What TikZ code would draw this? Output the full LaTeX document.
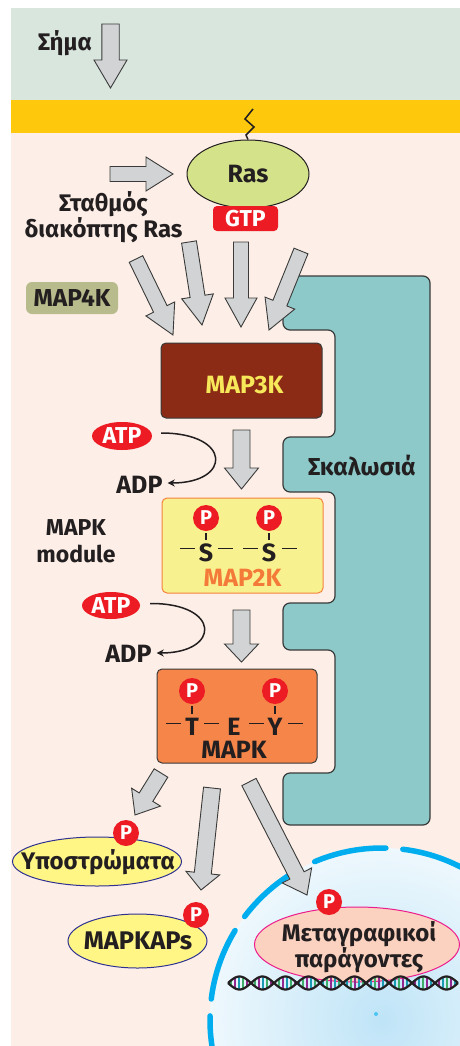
\documentclass[tikz,border=0pt]{standalone}
\usepackage{fontspec}
\setmainfont{Fira Sans}
\usetikzlibrary{arrows.meta,calc,shapes.geometric}

\definecolor{ink}{HTML}{231F20}
\definecolor{bandgreen}{HTML}{D9E6DE}
\definecolor{membrane}{HTML}{FEC80C}
\definecolor{cytosol}{HTML}{FDEFE7}
\definecolor{scaffoldteal}{HTML}{8CC9C8}
\definecolor{edgegray}{HTML}{3A3A3A}
\definecolor{arrowgray}{HTML}{D1D3D4}
\definecolor{rasgreen}{HTML}{D4E28A}
\definecolor{phosred}{HTML}{ED1C24}
\definecolor{olive}{HTML}{B8BB8C}
\definecolor{mapthree}{HTML}{8B2B15}
\definecolor{mapthreetext}{HTML}{F7E85A}
\definecolor{maptwo}{HTML}{F8F18F}
\definecolor{maptwoedge}{HTML}{F4823F}
\definecolor{maptwotext}{HTML}{F47A3A}
\definecolor{mapone}{HTML}{F58549}
\definecolor{subyellow}{HTML}{FFF685}
\definecolor{subnavy}{HTML}{2E3192}
\definecolor{tfpink}{HTML}{FBD1BF}
\definecolor{tfmagenta}{HTML}{EC1C8C}
\definecolor{nucblue}{HTML}{00AEEF}
\definecolor{nucin}{HTML}{BFE4F7}
\definecolor{nucout}{HTML}{EEF8FD}
\definecolor{dnagreen}{HTML}{3FAE6A}
\definecolor{dnapurple}{HTML}{92278F}
\definecolor{dnateal}{HTML}{1B9BB3}

% Wide grey block arrow between two named coordinates.
% #1 head length, #2 shaft half-width, #3 head half-width, #4 tail, #5 tip
\newcommand\grayarrow[5]{%
  \pgfpointdiff{\pgfpointanchor{#4}{center}}{\pgfpointanchor{#5}{center}}%
  \pgfgetlastxy{\gax}{\gay}%
  \pgfmathsetmacro\galen{veclen(\gax,\gay)}%
  \pgfmathsetmacro\gaang{atan2(\gay,\gax)}%
  \pgfmathsetmacro\gabase{\galen-#1}%
  \begin{scope}[shift={(#4)},rotate=\gaang]
    \draw[blockarrow] (0,-#2) -- (\gabase,-#2) -- (\gabase,-#3) -- (\galen,0)
      -- (\gabase,#3) -- (\gabase,#2) -- (0,#2) -- cycle;
  \end{scope}}

\newcommand\fsz[1]{\bfseries\fontsize{#1}{#1}\selectfont}

\begin{document}
\begin{tikzpicture}[x=1pt,y=-1pt,
  every node/.style={font=\fsz{24}, text=ink},
  tag/.style={inner sep=0pt, align=center},
  blockarrow/.style={fill=arrowgray, draw=edgegray, line width=0.9pt, line join=miter},
  kinase/.style={rectangle, rounded corners=5pt, draw=edgegray, line width=1pt, inner sep=0pt},
  phos/.style={circle, fill=phosred, text=white, minimum size=26pt, inner sep=0pt, font=\fsz{20}},
  redoval/.style={ellipse, fill=phosred, text=white, inner sep=0pt, font=\fsz{23}},
  bond/.style={draw=ink, line width=1.3pt},
  cyclearrow/.style={draw=ink, line width=1.5pt, -{Stealth[length=7pt,width=7pt]}},
  substrate/.style={ellipse, fill=subyellow, draw=subnavy, line width=1pt, inner sep=0pt},
  strand/.style={draw=ink, line width=2.2pt},
  rung/.style={line width=1.4pt}]

\useasboundingbox (0,0) rectangle (460,1046);
\fill[white] (0,0) rectangle (460,1046);

% compartments
\fill[cytosol] (11,8) rectangle (460,1046);
\fill[bandgreen] (11,8) rectangle (460,100);
\fill[membrane] (11,100) rectangle (460,133);

% nucleus
\begin{scope}
  \clip (11,8) rectangle (460,1046);
  \shade[inner color=nucin, outer color=nucout] (382,1020) circle (172);
  \fill[nucblue!70] (376,1014) circle (2);
  \draw[nucblue, line width=5.5pt, line cap=round, dash pattern=on 73pt off 17pt, dash phase=68.5pt]
    (382,1020) circle (172);
\end{scope}

% scaffold protein
\draw[fill=scaffoldteal, draw=edgegray, line width=1.2pt, rounded corners=7pt]
  (283,276) -- (430,276) -- (430,825) -- (283,825) -- (283,773) -- (335,773)
  -- (335,650) -- (283,650) -- (283,603) -- (335,603) -- (335,492) -- (283,492)
  -- (283,437) -- (335,437) -- (335,330) -- (283,330) -- cycle;
\node[tag, font=\fsz{24.5}] (scaf) at (362,465) {Σκαλωσιά};

% signal
\node[tag, font=\fsz{24}] (signal) at (65,43) {Σήμα};
\coordinate (sigA) at (110.5,24);
\coordinate (sigB) at (110.5,88);
\grayarrow{28}{8.7}{16.5}{sigA}{sigB}

% Ras on the membrane
\node[ellipse, fill=rasgreen, draw=ink, line width=1pt, minimum width=122pt, minimum height=68pt,
  inner sep=0pt, font=\fsz{25}] (ras) at (248,174) {Ras};
\coordinate (anchorA) at (253,109);
\draw[draw=ink, line width=1.5pt, line join=miter] (anchorA) -- ++(-8,10) -- ++(9,8) -- ++(-8,8) -- (ras.north);
\node[rectangle, rounded corners=4pt, fill=phosred, text=white, minimum width=65pt, minimum height=25pt,
  inner sep=0pt, font=\fsz{23}] (gtp) at (245.5,218.5) {GTP};

\coordinate (swA) at (110,174);
\coordinate (swB) at (173,174);
\grayarrow{27}{7.5}{17}{swA}{swB}
\node[tag, font=\bfseries\fontsize{24}{23}\selectfont] (switch) at (103.5,217) {Σταθμός\\διακόπτης Ras};

\node[rectangle, rounded corners=6pt, fill=olive, minimum width=92pt, minimum height=32pt,
  inner sep=0pt, font=\fsz{24.5}] (m4k) at (72,298) {MAP4K};

% converging activation arrows
\coordinate (c1A) at (136,259);  \coordinate (c1B) at (173,335);
\coordinate (c2A) at (189,242);  \coordinate (c2B) at (202,325);
\coordinate (c3A) at (241,242);  \coordinate (c3B) at (241,327);
\coordinate (c4A) at (301,251);  \coordinate (c4B) at (269,330);
\grayarrow{29}{7.5}{16}{c1A}{c1B}
\grayarrow{29}{7.5}{16}{c2A}{c2B}
\grayarrow{29}{7.5}{16}{c3A}{c3B}
\grayarrow{29}{7.5}{16}{c4A}{c4B}

% MAP3K
\node[kinase, fill=mapthree, minimum width=161pt, minimum height=75pt] (m3k) at (241.5,380.5) {};
\node[tag, text=mapthreetext, font=\fsz{25}] (m3ktxt) at (244.5,385) {MAP3K};

\coordinate (k1A) at (241.5,430);  \coordinate (k1B) at (241.5,489);
\grayarrow{21}{8.5}{17}{k1A}{k1B}

\node[redoval, minimum width=60pt, minimum height=28pt] (atp1) at (122,436) {ATP};
\node[tag, font=\fsz{25}] (adp1) at (139.5,485) {ADP};
\draw[cyclearrow] ($(atp1.east)+(9,-3)$) .. controls (232,433) and (232,483) .. ($(adp1.east)+(5,-2)$);

\node[tag, font=\bfseries\fontsize{23}{27}\selectfont] (module) at (76,541) {MAPK\\module};

% MAP2K
\node[kinase, fill=maptwo, draw=maptwoedge, minimum width=161pt, minimum height=95pt] (m2k) at (242.5,545.5) {};
\node[phos] (p2a) at (206,518) {P};
\node[phos] (p2b) at (269,518) {P};
\node[tag, font=\fsz{25}] (s1) at (206,552.5) {S};
\node[tag, font=\fsz{25}] (s2) at (269,552.5) {S};
\node[tag, text=maptwotext, font=\fsz{25}] (m2ktxt) at (242.5,578) {MAP2K};
\draw[bond] ($(p2a.south)+(0,2)$) -- ++(0,7);
\draw[bond] ($(p2b.south)+(0,2)$) -- ++(0,7);
\draw[bond] ($(s1)+(-26,-4)$) -- ++(15,0);
\draw[bond] ($(s1)+(12,-4)$) -- ++(15,0);
\draw[bond] ($(s2)+(-26,-4)$) -- ++(15,0);
\draw[bond] ($(s2)+(13,-4)$) -- ++(15,0);

\node[redoval, minimum width=58pt, minimum height=27pt] (atp2) at (111,605.5) {ATP};
\node[tag, font=\fsz{25}] (adp2) at (128.5,654) {ADP};
\draw[cyclearrow] ($(atp2.east)+(10,-2)$) .. controls (221,603) and (221,653) .. ($(adp2.east)+(5,-1)$);

\coordinate (k2A) at (241.5,610);  \coordinate (k2B) at (241.5,662);
\grayarrow{18}{8.5}{17}{k2A}{k2B}

% MAPK
\node[kinase, fill=mapone, minimum width=160pt, minimum height=94pt] (mapk) at (237,716) {};
\node[phos] (p1a) at (192,691) {P};
\node[phos] (p1b) at (275,691) {P};
\node[tag, font=\fsz{25}] (rT) at (192,726.5) {T};
\node[tag, font=\fsz{25}] (rE) at (234,726.5) {E};
\node[tag, font=\fsz{25}] (rY) at (275,726.5) {Y};
\node[tag, font=\fsz{25}] (mapktxt) at (234,750) {MAPK};
\draw[bond] ($(p1a.south)+(0,2)$) -- ++(0,8);
\draw[bond] ($(p1b.south)+(0,2)$) -- ++(0,8);
\draw[bond] ($(rT)+(-26,-3)$) -- ++(15,0);
\draw[bond] ($(rT)+(12,-3)$) -- ++(15,0);
\draw[bond] ($(rY)+(-26,-3)$) -- ++(15,0);
\draw[bond] ($(rY)+(13,-3)$) -- ++(15,0);

% downstream targets
\coordinate (d1A) at (161,773);  \coordinate (d1B) at (135,815);
\coordinate (d2A) at (212,788);  \coordinate (d2B) at (201,890);
\coordinate (d3A) at (249,782);  \coordinate (d3B) at (307,895);
\grayarrow{21}{8}{17}{d1A}{d1B}
\grayarrow{17}{8.5}{17}{d2A}{d2B}
\grayarrow{22}{8}{16.5}{d3A}{d3B}

\node[substrate, minimum width=169pt, minimum height=49pt] (sub) at (97,861.5) {};
\node[tag] (subtxt) at (98,862) {Υποστρώματα};
\node[phos] (psub) at (126,833) {P};

\node[substrate, minimum width=139pt, minimum height=54pt] (mkap) at (137.5,941) {};
\node[tag, font=\fsz{25.5}] (mkaptxt) at (138,941) {MAPKAPs};
\node[phos] (pmkap) at (196,915) {P};

\node[ellipse, fill=tfpink, draw=tfmagenta, line width=1pt, minimum width=205pt, minimum height=75pt,
  inner sep=0pt] (tf) at (357,944.5) {};
\node[tag, font=\bfseries\fontsize{24}{24}\selectfont] (tftxt) at (359,947) {Μεταγραφικοί\\παράγοντες};
\node[phos] (ptf) at (329,902) {P};

% DNA double helix
\foreach \xx in {231,243,...,455}
  \draw[rung, dnagreen] (\xx,{983-6.5*sin((\xx-228)*7.826)}) -- (\xx,{983+6.5*sin((\xx-228)*7.826)});
\foreach \xx in {235,247,...,455}
  \draw[rung, dnapurple] (\xx,{983-6.5*sin((\xx-228)*7.826)}) -- (\xx,{983+6.5*sin((\xx-228)*7.826)});
\foreach \xx in {239,251,...,455}
  \draw[rung, dnateal] (\xx,{983-6.5*sin((\xx-228)*7.826)}) -- (\xx,{983+6.5*sin((\xx-228)*7.826)});
\draw[strand] plot[domain=228:458, samples=180, smooth] (\x,{983+6.5*sin((\x-228)*7.826)});
\draw[strand] plot[domain=228:458, samples=180, smooth] (\x,{983-6.5*sin((\x-228)*7.826)});

\end{tikzpicture}
\end{document}
